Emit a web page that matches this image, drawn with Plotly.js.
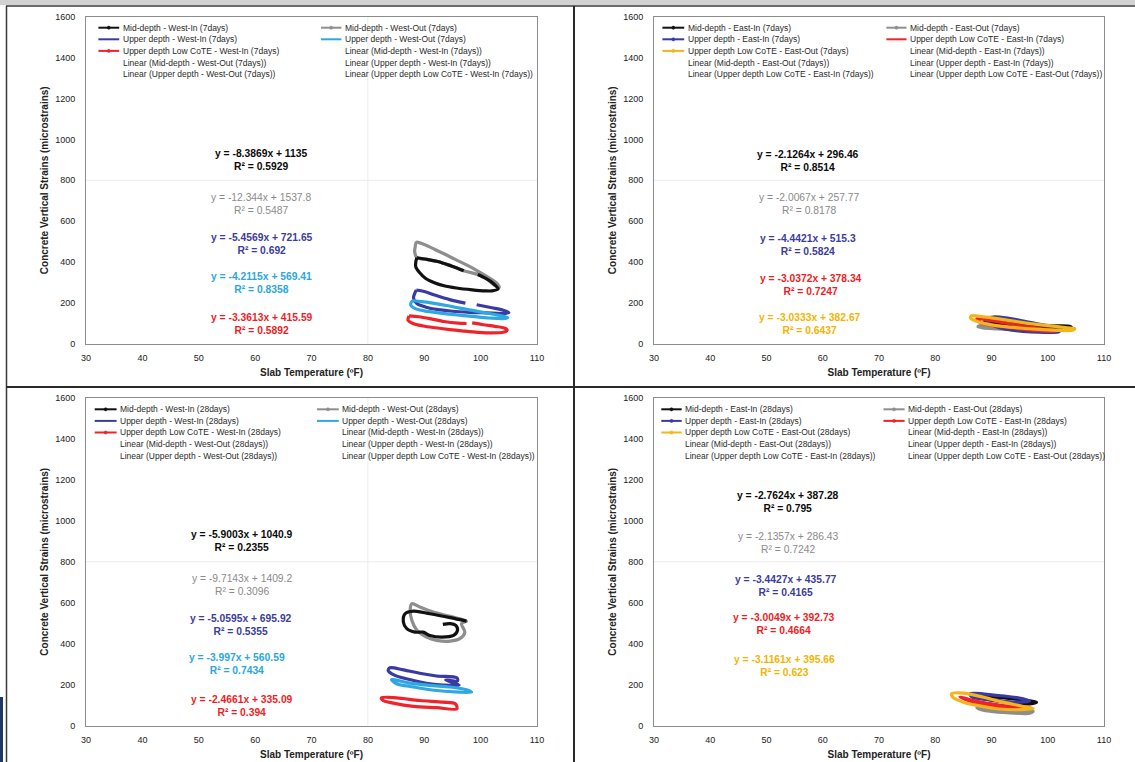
<!DOCTYPE html>
<html><head><meta charset="utf-8">
<script src="https://cdn.plot.ly/plotly-3.0.1.min.js"></script>
<style>html,body{margin:0;padding:0;background:#fff;}#chart{width:1135px;height:762px;}</style>
</head><body><div id="chart"></div>
<script>
// ================= DATA =================
const xTickVals = [30, 40, 50, 60, 70, 80, 90, 100, 110];
const yTickVals = [0, 200, 400, 600, 800, 1000, 1200, 1400, 1600];
const xTitle = 'Slab Temperature (ºF)';
const yTitle = 'Concrete Vertical Strains (microstrains)';

// ---- Panel 1: West, 7 days ----
const tMidWestIn7 = [88.7, 90.5, 92.4, 94.8, 97.0, null, 99.5, 101.0, 102.1, 103.1, 102.0, 100.8, 98.5, 95.7, 93.5, 91.8, 90.2, 89.2, 88.5, 88.5, 88.7];
const sMidWestIn7 = [420, 412, 402, 380, 357, null, 338, 318, 298, 268, 258, 258, 263, 272, 283, 298, 320, 347, 375, 400, 420];
const tMidWestOut7 = [88.6, 90.0, 91.5, 93.5, 95.5, 97.5, 99.5, 101.5, 103.0, 103.3, 102.5, 101.0, 99.5, 97.0, 94.8, 92.4, 90.5, 88.7, 88.3, 88.4, 88.6];
const sMidWestOut7 = [496, 485, 466, 440, 412, 385, 355, 322, 292, 275, 285, 318, 338, 357, 380, 402, 412, 420, 450, 475, 496];
const tUpWestIn7 = [88.6, 90.0, 92.0, 94.5, 97.3, null, 99.3, 102.0, 104.0, 105.0, 104.0, 101.0, 98.0, 95.0, 92.5, 90.3, 88.7, 88.1, 88.3, 88.6];
const sUpWestIn7 = [262, 255, 236, 215, 198, null, 190, 175, 163, 152, 147, 150, 153, 158, 166, 178, 196, 222, 245, 262];
const tUpWestOut7 = [87.9, 89.5, 91.5, 94.0, 96.5, 99.0, 101.5, 103.5, 104.8, 104.0, 101.5, 98.5, 95.5, 92.5, 90.0, 88.3, 87.6, 87.9];
const sUpWestOut7 = [208, 205, 198, 186, 172, 160, 147, 137, 128, 122, 125, 133, 141, 150, 160, 172, 190, 208];
const tLowWestIn7 = [87.3, 89.0, 91.0, 93.5, 96.0, 97.5, null, 98.5, 100.5, 102.5, 104.3, 104.7, 104.0, 102.0, 99.5, 97.0, 94.5, 92.0, 89.8, 88.0, 87.1, 87.3];
const sLowWestIn7 = [135, 131, 122, 108, 100, 98, null, 101, 92, 84, 75, 65, 55, 52, 55, 61, 68, 77, 86, 98, 115, 135];

// ---- Panel 2: East, 7 days ----
const tMidEastIn7 = [89.0, 92.0, 95.0, 98.0, 101.0, 104.0, 104.2, 101.5, 98.0, 94.5, 91.0, 88.8, 89.0];
const sMidEastIn7 = [112, 106, 99, 92, 87, 84, 77, 78, 81, 88, 96, 104, 112];
const tMidEastOut7 = [88.0, 91.0, 94.0, 97.0, 100.0, 102.0, 101.5, 98.0, 94.5, 91.0, 88.5, 87.6, 88.0];
const sMidEastOut7 = [88, 84, 78, 72, 66, 62, 58, 60, 66, 72, 77, 82, 88];
const tUpEastIn7 = [89.3, 90.5, 92.5, 95.0, 97.5, 100.0, 102.2, 102.0, 100.0, 97.0, 94.0, 91.5, 90.0, 89.2, 89.3];
const sUpEastIn7 = [125, 130, 126, 114, 100, 84, 68, 58, 55, 57, 64, 76, 92, 110, 125];
const tLowEastIn7 = [87.4, 90.0, 93.0, 96.0, 99.0, 101.6, 101.0, 98.0, 95.0, 92.0, 89.5, 88.0, 87.4];
const sLowEastIn7 = [122, 112, 98, 84, 72, 64, 60, 64, 72, 82, 92, 104, 122];
const tLowEastOut7 = [86.4, 88.0, 90.0, 92.5, 95.0, 98.0, 101.0, 103.5, 104.8, 104.5, 102.0, 98.5, 95.0, 92.0, 89.5, 87.5, 86.3, 86.4];
const sLowEastOut7 = [135, 133, 126, 116, 105, 94, 85, 77, 73, 66, 64, 69, 76, 84, 94, 108, 124, 135];

// ---- Panel 3: West, 28 days ----
const tMidWestIn28 = [97.5, 94.6, 91.0, 88.1, 86.6, 86.3, 86.9, 88.4, 89.8, 91.0, 93.1, 95.2, 95.9, 95.6, 94.6, 93.3];
const sMidWestIn28 = [510, 527, 546, 559, 546, 505, 473, 456, 456, 440, 432, 440, 465, 489, 498, 494];
const tMidWestOut28 = [87.8, 89.2, 91.6, 94.6, 97.5, 96.6, 97.2, 96.3, 94.6, 92.2, 90.4, 88.7, 87.8, 87.5, 87.8];
const sMidWestOut28 = [595, 579, 554, 533, 510, 498, 456, 424, 412, 416, 432, 465, 514, 563, 595];
const tUpWestIn28 = [83.9, 86.3, 89.2, 92.2, 95.8, 95.9, 93.8, 96.2, 92.2, 88.1, 84.8, 83.6, 83.9];
const sUpWestIn28 = [282, 272, 255, 242, 233, 218, 222, 198, 200, 220, 245, 268, 282];
const tUpWestOut28 = [84.2, 87.5, 91.0, 94.6, 97.5, 98.4, 96.3, 92.2, 88.1, 85.1, 84.2];
const sUpWestOut28 = [224, 207, 196, 188, 175, 163, 163, 171, 188, 204, 224];
const tLowWestIn28 = [82.4, 85.1, 89.2, 93.4, 95.5, 95.8, 92.2, 88.1, 84.5, 82.7, 82.4];
const sLowWestIn28 = [135, 135, 122, 114, 106, 82, 87, 93, 109, 122, 135];

// ---- Panel 4: East, 28 days ----
const tMidEastIn28 = [86.8, 90.9, 95.1, 98.0, 96.8, 92.7, 88.5, 86.8];
const sMidEastIn28 = [152, 139, 126, 114, 106, 114, 131, 140];
const tMidEastOut28 = [87.4, 90.9, 94.5, 97.4, 96.8, 93.3, 89.7, 87.7, 87.4];
const sMidEastOut28 = [90, 82, 73, 70, 60, 62, 70, 82, 90];
const tUpEastIn28 = [86.2, 90.9, 94.5, 96.8, 93.9, 89.7, 86.5, 86.2];
const sUpEastIn28 = [155, 147, 136, 119, 114, 126, 139, 155];
const tLowEastIn28 = [84.4, 86.8, 89.7, 93.9, 96.8, 93.3, 89.1, 86.2, 84.4];
const sLowEastIn28 = [139, 114, 98, 90, 90, 93, 109, 126, 139];
const tLowEastOut28 = [82.9, 85.0, 88.0, 92.1, 95.7, 97.4, 94.5, 90.9, 87.4, 85.0, 83.2, 82.9];
const sLowEastOut28 = [155, 158, 142, 114, 93, 82, 77, 82, 98, 114, 136, 155];

// ---- Legend labels ----
const legendWest7 = ['Mid-depth - West-In (7days)', 'Mid-depth - West-Out (7days)', 'Upper depth - West-In (7days)', 'Upper depth - West-Out (7days)', 'Upper depth Low CoTE - West-In (7days)', 'Linear (Mid-depth - West-In (7days))', 'Linear (Mid-depth - West-Out (7days))', 'Linear (Upper depth - West-In (7days))', 'Linear (Upper depth - West-Out (7days))', 'Linear (Upper depth Low CoTE - West-In (7days))'];
const legendEast7 = ['Mid-depth - East-In (7days)', 'Mid-depth - East-Out (7days)', 'Upper depth - East-In (7days)', 'Upper depth Low CoTE - East-In (7days)', 'Upper depth Low CoTE - East-Out (7days)', 'Linear (Mid-depth - East-In (7days))', 'Linear (Mid-depth - East-Out (7days))', 'Linear (Upper depth - East-In (7days))', 'Linear (Upper depth Low CoTE - East-In (7days))', 'Linear (Upper depth Low CoTE - East-Out (7days))'];
const legendWest28 = ['Mid-depth - West-In (28days)', 'Mid-depth - West-Out (28days)', 'Upper depth - West-In (28days)', 'Upper depth - West-Out (28days)', 'Upper depth Low CoTE - West-In (28days)', 'Linear (Mid-depth - West-In (28days))', 'Linear (Mid-depth - West-Out (28days))', 'Linear (Upper depth - West-In (28days))', 'Linear (Upper depth - West-Out (28days))', 'Linear (Upper depth Low CoTE - West-In (28days))'];
const legendEast28 = ['Mid-depth - East-In (28days)', 'Mid-depth - East-Out (28days)', 'Upper depth - East-In (28days)', 'Upper depth Low CoTE - East-In (28days)', 'Upper depth Low CoTE - East-Out (28days)', 'Linear (Mid-depth - East-In (28days))', 'Linear (Mid-depth - East-Out (28days))', 'Linear (Upper depth - East-In (28days))', 'Linear (Upper depth Low CoTE - East-In (28days))', 'Linear (Upper depth Low CoTE - East-Out (28days))'];

// ---- Trendline equations ----
const eqWest7 = ['y = -8.3869x + 1135', 'y = -12.344x + 1537.8', 'y = -5.4569x + 721.65', 'y = -4.2115x + 569.41', 'y = -3.3613x + 415.59'];
const r2West7 = ['R² = 0.5929', 'R² = 0.5487', 'R² = 0.692', 'R² = 0.8358', 'R² = 0.5892'];
const eqEast7 = ['y = -2.1264x + 296.46', 'y = -2.0067x + 257.77', 'y = -4.4421x + 515.3', 'y = -3.0372x + 378.34', 'y = -3.0333x + 382.67'];
const r2East7 = ['R² = 0.8514', 'R² = 0.8178', 'R² = 0.5824', 'R² = 0.7247', 'R² = 0.6437'];
const eqWest28 = ['y = -5.9003x + 1040.9', 'y = -9.7143x + 1409.2', 'y = -5.0595x + 695.92', 'y = -3.997x + 560.59', 'y = -2.4661x + 335.09'];
const r2West28 = ['R² = 0.2355', 'R² = 0.3096', 'R² = 0.5355', 'R² = 0.7434', 'R² = 0.394'];
const eqEast28 = ['y = -2.7624x + 387.28', 'y = -2.1357x + 286.43', 'y = -3.4427x + 435.77', 'y = -3.0049x + 392.73', 'y = -3.1161x + 395.66'];
const r2East28 = ['R² = 0.795', 'R² = 0.7242', 'R² = 0.4165', 'R² = 0.4664', 'R² = 0.623'];

// ================= STYLE / LAYOUT =================
const FONT = 'Liberation Sans, Arial, sans-serif';
const C = {black: '#111111', grey: '#8e8e8e', blue: '#3a3aa5', cyan: '#2ea8e0', red: '#f0222a', yellow: '#f5b41a'};
const EQC = {black: '#0a0a0a', grey: '#8a8a8a', blue: '#3c3c9e', cyan: '#2aa7de', red: '#ee1d25', yellow: '#f4b400'};
const W = 1135, H = 762;
const PX = v => v / W, PY = v => 1 - v / H;

const panels = [
  { xa: 'x', ya: 'y', l: 86, r: 537, t: 17, b: 343.5,
    series: [[tMidWestIn7, sMidWestIn7, 'black', true], [tMidWestOut7, sMidWestOut7, 'grey', true], [tUpWestIn7, sUpWestIn7, 'blue', false], [tUpWestOut7, sUpWestOut7, 'cyan', false], [tLowWestIn7, sLowWestIn7, 'red', true]],
    order: [1, 0, 2, 3, 4],
    legend: legendWest7, eq: eqWest7, r2: r2West7, eqColors: ['black', 'grey', 'blue', 'cyan', 'red'],
    eqX: [261, 261, 262, 261, 262], eqY: [159.5, 203.8, 243.8, 283.2, 324],
    legCol: [[98.4, 119.2, 121], [321, 341.4, 342.5]], legRow0: 27.7 },
  { xa: 'x2', ya: 'y2', l: 654, r: 1104, t: 17, b: 343.5,
    series: [[tMidEastIn7, sMidEastIn7, 'black', true], [tMidEastOut7, sMidEastOut7, 'grey', true], [tUpEastIn7, sUpEastIn7, 'blue', true], [tLowEastIn7, sLowEastIn7, 'red', false], [tLowEastOut7, sLowEastOut7, 'yellow', true]],
    order: [0, 1, 2, 3, 4],
    legend: legendEast7, eq: eqEast7, r2: r2East7, eqColors: ['black', 'grey', 'blue', 'red', 'yellow'],
    eqX: [808, 809, 808, 811, 810], eqY: [161.3, 203.8, 244.5, 284.7, 324.3],
    legCol: [[662.4, 684.2, 686], [886.4, 906.5, 908.3]], legRow0: 27.7 },
  { xa: 'x3', ya: 'y3', l: 86, r: 537, t: 398, b: 725.5,
    series: [[tMidWestIn28, sMidWestIn28, 'black', true], [tMidWestOut28, sMidWestOut28, 'grey', true], [tUpWestIn28, sUpWestIn28, 'blue', false], [tUpWestOut28, sUpWestOut28, 'cyan', false], [tLowWestIn28, sLowWestIn28, 'red', true]],
    order: [1, 0, 2, 3, 4],
    legend: legendWest28, eq: eqWest28, r2: r2West28, eqColors: ['black', 'grey', 'blue', 'cyan', 'red'],
    eqX: [242, 242, 241, 237, 242], eqY: [541.3, 584.5, 624.5, 663.8, 706.3],
    legCol: [[94.7, 116.6, 118], [317, 338.8, 340.3]], legRow0: 409.3 },
  { xa: 'x4', ya: 'y4', l: 654, r: 1104, t: 398, b: 725.5,
    series: [[tMidEastIn28, sMidEastIn28, 'black', true], [tMidEastOut28, sMidEastOut28, 'grey', true], [tUpEastIn28, sUpEastIn28, 'blue', true], [tLowEastIn28, sLowEastIn28, 'red', true], [tLowEastOut28, sLowEastOut28, 'yellow', true]],
    order: [0, 1, 2, 3, 4],
    legend: legendEast28, eq: eqEast28, r2: r2East28, eqColors: ['black', 'grey', 'blue', 'red', 'yellow'],
    eqX: [788, 788, 785.5, 783.5, 784], eqY: [502.3, 542.8, 585.5, 624.3, 666.2],
    legCol: [[661.3, 681.7, 683.1], [883.5, 904.6, 906]], legRow0: 409.3 }
];

const traces = [];
const annotations = [];
const shapes = [];
const layout = {
  width: W, height: H, margin: {l: 0, r: 0, t: 0, b: 0},
  paper_bgcolor: '#ffffff', plot_bgcolor: '#ffffff', showlegend: false,
  font: {family: FONT, color: '#222'}, annotations, shapes
};

panels.forEach((p, i) => {
  const n = i === 0 ? '' : String(i + 1);
  layout['xaxis' + n] = {
    domain: [PX(p.l), PX(p.r)], anchor: p.ya, range: [30, 110], tickvals: xTickVals,
    ticks: '', ticklabelstandoff: 6, showline: true, mirror: true, linecolor: '#8c8c8c', linewidth: 1,
    showgrid: false, zeroline: false, fixedrange: true,
    tickfont: {family: FONT, size: 9, color: '#222'},
    title: {text: '<b>' + xTitle + '</b>', font: {family: FONT, size: 10, color: '#222'}, standoff: 6}
  };
  layout['yaxis' + n] = {
    domain: [PY(p.b), PY(p.t)], anchor: p.xa, range: [0, 1600], tickvals: yTickVals,
    ticks: '', ticklabelstandoff: 8, showline: true, mirror: true, linecolor: '#8c8c8c', linewidth: 1,
    showgrid: false, zeroline: false, fixedrange: true,
    tickfont: {family: FONT, size: 9, color: '#222'},
    title: {text: '<b>' + yTitle + '</b>', font: {family: FONT, size: 10, color: '#222'}, standoff: 4}
  };
  // faint residual gridlines
  shapes.push({type: 'line', xref: p.xa + ' domain', yref: p.ya, x0: 0, x1: 1, y0: 800, y1: 800, line: {color: '#ececec', width: 1}, layer: 'below'});
  if (i % 2 === 0) shapes.push({type: 'line', xref: p.xa, yref: p.ya + ' domain', x0: 80, x1: 80, y0: 0, y1: 1, line: {color: '#ececec', width: 1}, layer: 'below'});

  // data loops (drawn in the stacking order seen in the picture)
  p.order.forEach(k => {
    const s = p.series[k];
    traces.push({
      type: 'scatter', mode: 'lines', x: s[0], y: s[1], xaxis: p.xa, yaxis: p.ya,
      name: p.legend[k], showlegend: false, hoverinfo: 'skip', connectgaps: false,
      line: {color: C[s[2]], width: 3.2, shape: 'spline', smoothing: 0.9}
    });
  });

  // legend (two columns, row-major like Excel)
  p.legend.forEach((lab, k) => {
    const row = Math.floor(k / 2), col = k % 2;
    const y = p.legRow0 + row * 11.6;
    const c = p.legCol[col];
    if (k < p.series.length) {
      const s = p.series[k];
      shapes.push({type: 'line', xref: 'paper', yref: 'paper', x0: PX(c[0]), x1: PX(c[1]), y0: PY(y), y1: PY(y), line: {color: C[s[2]], width: 2}});
      if (s[3]) {
        const m = (c[0] + c[1]) / 2;
        shapes.push({type: 'circle', xref: 'paper', yref: 'paper', x0: PX(m - 1.6), x1: PX(m + 1.6), y0: PY(y + 1.6), y1: PY(y - 1.6), fillcolor: C[s[2]], line: {color: C[s[2]], width: 0.5}});
      }
    }
    annotations.push({xref: 'paper', yref: 'paper', x: PX(c[2]), y: PY(y), xanchor: 'left', yanchor: 'middle', showarrow: false,
      text: lab, font: {family: FONT, size: 8.5, color: '#2a2a2a'}});
  });

  // trendline equation labels
  p.eq.forEach((e, k) => {
    const col = p.eqColors[k];
    const bold = col !== 'grey';
    const txt = bold ? '<b>' + e + '</b><br><b>' + p.r2[k] + '</b>' : e + '<br>' + p.r2[k];
    annotations.push({xref: 'paper', yref: 'paper', x: PX(p.eqX[k]), y: PY(p.eqY[k]), xanchor: 'center', yanchor: 'middle', showarrow: false, align: 'center',
      text: txt, font: {family: FONT, size: 10.3, color: EQC[col]}});
  });
});

// page frame / separators
shapes.push({type: 'rect', xref: 'paper', yref: 'paper', x0: 0, x1: 1, y0: PY(5), y1: 1, fillcolor: '#d2d2d2', line: {width: 0}});
shapes.push({type: 'line', xref: 'paper', yref: 'paper', x0: PX(6), x1: 1, y0: PY(6), y1: PY(6), line: {color: '#3a3a3a', width: 1.5}});
shapes.push({type: 'line', xref: 'paper', yref: 'paper', x0: PX(6.5), x1: PX(6.5), y0: 0, y1: PY(6), line: {color: '#3a3a3a', width: 1.5}});
shapes.push({type: 'line', xref: 'paper', yref: 'paper', x0: PX(574), x1: PX(574), y0: 0, y1: PY(6), line: {color: '#2a2a2a', width: 2}});
shapes.push({type: 'line', xref: 'paper', yref: 'paper', x0: PX(6), x1: 1, y0: PY(387), y1: PY(387), line: {color: '#2a2a2a', width: 2}});
shapes.push({type: 'rect', xref: 'paper', yref: 'paper', x0: 0, x1: PX(3), y0: 0, y1: PY(697), fillcolor: '#1f3864', line: {width: 0}});

Plotly.newPlot('chart', traces, layout, {staticPlot: true, displayModeBar: false});
</script></body></html>
